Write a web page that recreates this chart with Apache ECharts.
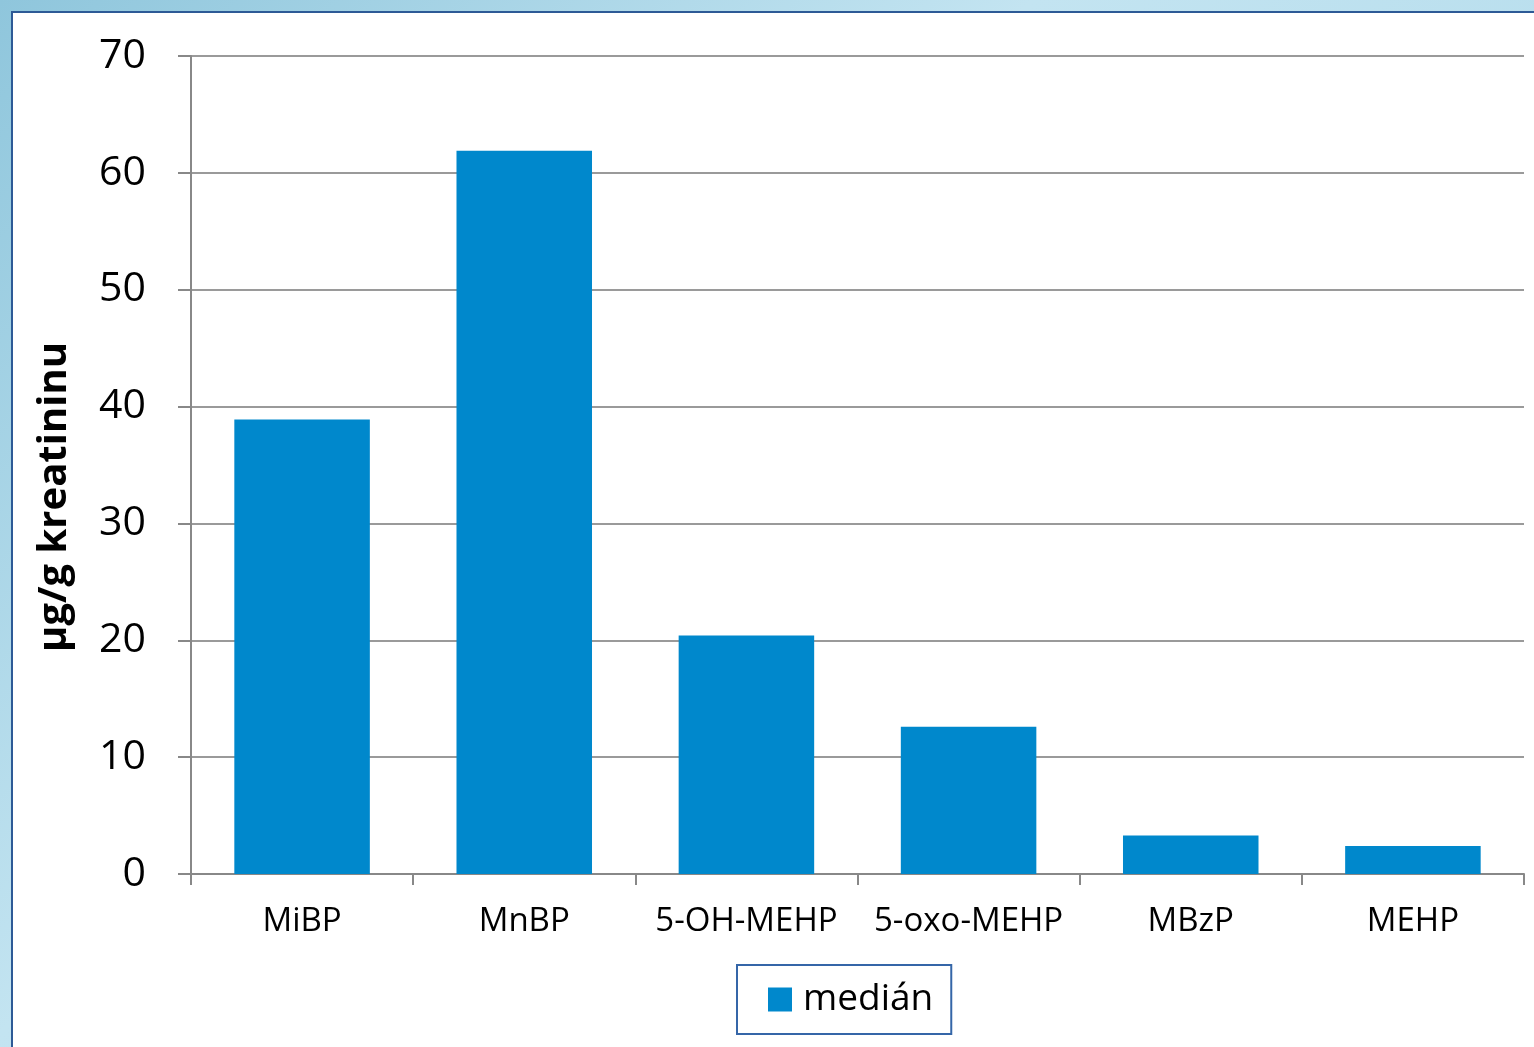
<!DOCTYPE html>
<html>
<head>
<meta charset="utf-8">
<script src="https://cdn.jsdelivr.net/npm/echarts@6/dist/echarts.min.js"></script>
<style>
  html, body { margin: 0; padding: 0; }
  body {
    width: 1534px; height: 1047px; overflow: hidden;
    background: linear-gradient(135deg, #8fc6dc 0%, #c3e4f1 40%, #a9d6e8 100%);
  }
  #frame {
    position: absolute; left: 11px; top: 11px; right: 0; bottom: 0;
    background: #fff;
    border-left: 2px solid #2d5a96;
    border-top: 2px solid #2d5a96;
  }
  #chart { position: absolute; left: 0; top: 0; width: 1534px; height: 1047px; }
</style>
</head>
<body>
<div id="frame"></div>
<div id="chart"></div>
<script>
  // kategorie a hodnoty (medián, µg/g kreatininu)
  var categories = ['MiBP', 'MnBP', '5-OH-MEHP', '5-oxo-MEHP', 'MBzP', 'MEHP'];
  var medianValues = [38.9, 61.9, 20.4, 12.6, 3.3, 2.4];
  var seriesName = 'medián';
  var yAxisName = 'µg/g kreatininu';

  var fontFam = '"Open Sans", "Liberation Sans", sans-serif';
  var chart = echarts.init(document.getElementById('chart'));
  var option = {
    animation: false,
    backgroundColor: 'transparent',
    grid: { left: 191, right: 10, top: 56, bottom: 173 },
    legend: {
      data: [seriesName],
      top: 965,
      left: 737,
      padding: [16, 18, 16, 31],
      borderColor: '#3566a8',
      borderWidth: 2,
      itemWidth: 24,
      itemHeight: 24,
      icon: 'rect',
      textStyle: { fontSize: 37, color: '#000', fontFamily: fontFam, padding: [0, 0, 0, 6] }
    },
    xAxis: {
      type: 'category',
      data: categories,
      axisLine: { lineStyle: { color: '#888', width: 2 } },
      axisTick: { show: true, length: 11, lineStyle: { color: '#888', width: 2 } },
      axisLabel: { color: '#000', fontSize: 33, fontFamily: fontFam, margin: 31, interval: 0 }
    },
    yAxis: {
      type: 'value',
      min: 0,
      max: 70,
      interval: 10,
      name: yAxisName,
      nameLocation: 'middle',
      nameGap: 116,
      nameTextStyle: { fontSize: 40, fontWeight: 'bold', color: '#000', fontFamily: fontFam, padding: [0, 64, 0, 0] },
      axisLine: { show: true, lineStyle: { color: '#888', width: 2 } },
      axisTick: { show: true, length: 13, lineStyle: { color: '#888', width: 2 } },
      axisLabel: { color: '#000', fontSize: 41, fontFamily: fontFam, margin: 45 },
      splitLine: { lineStyle: { color: '#9a9a9a', width: 2 } }
    },
    series: [{
      name: seriesName,
      type: 'bar',
      data: medianValues,
      barCategoryGap: '39%',
      itemStyle: { color: '#0088cc' }
    }]
  };
  chart.setOption(option);
</script>
</body>
</html>
